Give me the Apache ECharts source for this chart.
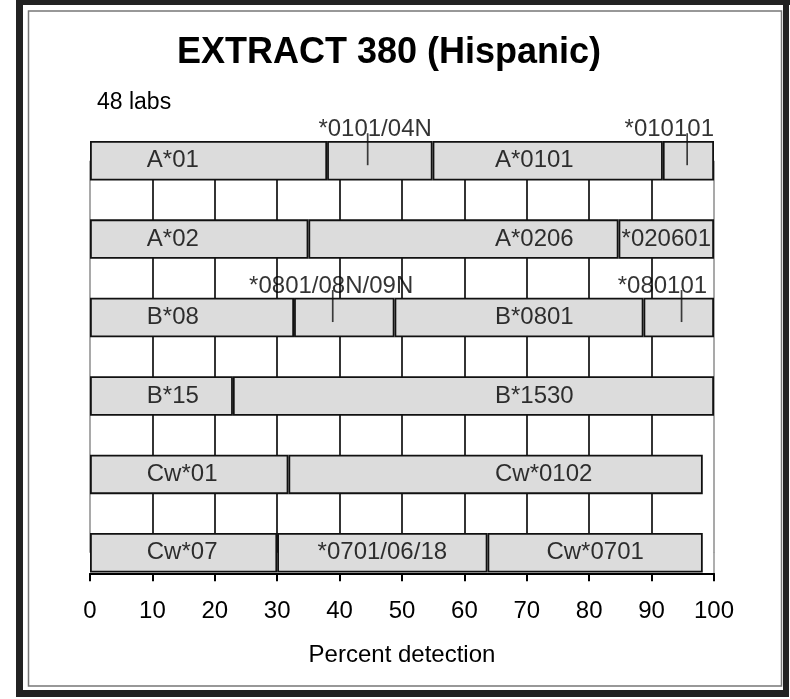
<!DOCTYPE html>
<html><head><meta charset="utf-8">
<script src="https://cdn.jsdelivr.net/npm/echarts@6/dist/echarts.min.js"></script>
<style>html,body{margin:0;padding:0;background:#fff}#c{width:790px;height:699px}</style>
</head><body><div id="c"></div>
<script>
// ---- data ----
const categories = ['A*01', 'A*02', 'B*08', 'B*15', 'Cw*01', 'Cw*07'];
const seg1 = [38.0, 35.0, 32.7, 22.9, 31.8, 30.0];
const seg2 = [16.9, 49.7, 16.1, 77.1, 66.4, 33.7];
const seg3 = [36.9, 15.3, 39.9, null, null, 34.5];
const seg4 = [8.2, null, 11.3, null, null, null];
const text1 = ['A*01', 'A*02', 'B*08', 'B*15', 'Cw*01', 'Cw*07'];
const text2 = ['', 'A*0206', '', 'B*1530', 'Cw*0102', '*0701/06/18'];
const text3 = ['A*0101', '*020601', 'B*0801', '', '', 'Cw*0701'];
const calloutRow = [0, 0, 2, 2];
const calloutText = ['*0101/04N', '*010101', '*0801/08N/09N', '*080101'];
const calloutAt = [44.5, 95.7, 38.9, 94.8];
const xTickLabels = ['0', '10', '20', '30', '40', '50', '60', '70', '80', '90', '100'];

// ---- layout / style (not data) ----
const FONT = 'Liberation Sans, Arial, sans-serif';
const LAYOUT = { firstColX: 9.1, secondColX: 64.9 };
const align1 = ['first', 'first', 'first', 'first', 'first', 'first'];
const align2 = ['', 'col', '', 'col', 'col', 'center'];
const align3 = ['col', 'center', 'col', '', '', 'center'];
const calloutTextX = [36.6, 100, 25.5, 98.9];
const calloutAlign = ['left', 'right', 'left', 'right'];
const LABEL_SIZE = 24;

const segs = [seg1, seg2, seg3, seg4];
const barSeries = segs.map(s => ({
  type: 'bar', stack: 'total', barWidth: 39.5, silent: true,
  data: s.map(v => (v == null ? '-' : v)),
  itemStyle: { color: '#dcdcdc', borderColor: '#111', borderWidth: 1.8 },
  z: 2
}));

const textData = [];
categories.forEach((c, i) => {
  let start = 0;
  [[seg1, text1, align1], [seg2, text2, align2], [seg3, text3, align3]].forEach(([s, t, a]) => {
    const w = s[i] || 0;
    if (t[i]) {
      let x, al;
      if (a[i] === 'first') { x = LAYOUT.firstColX; al = 'left'; }
      else if (a[i] === 'col') { x = LAYOUT.secondColX; al = 'left'; }
      else { x = start + w / 2; al = 'center'; }
      textData.push({ name: t[i], value: [x, i], label: { align: al } });
    }
    start += w;
  });
});

const calloutData = calloutText.map((t, k) => ({
  name: t, value: [calloutTextX[k], calloutRow[k]], label: { align: calloutAlign[k] }
}));
const leaderData = calloutAt.map((x, k) => [x, calloutRow[k]]);

const gridColors = xTickLabels.map((_, k) => (k === 0 || k === xTickLabels.length - 1) ? '#9a9a9a' : '#111');

const chart = echarts.init(document.getElementById('c'), null, { renderer: 'canvas' });
chart.setOption({
  animation: false,
  backgroundColor: '#fff',
  grid: { left: 90, right: 76, top: 160.7, bottom: 146.2, containLabel: false },
  xAxis: {
    type: 'value', min: 0, max: 100, interval: 10, offset: 20.5,
    name: 'Percent detection', nameLocation: 'middle', nameGap: 70,
    nameTextStyle: { fontFamily: FONT, fontSize: 24, color: '#000' },
    axisLine: { show: true, lineStyle: { color: '#000', width: 2 } },
    axisTick: { show: true, length: 8, lineStyle: { color: '#000', width: 2 } },
    axisLabel: { margin: 26, fontFamily: FONT, fontSize: LABEL_SIZE, color: '#000',
      formatter: (v) => xTickLabels[Math.round(v / 10)] },
    splitLine: { show: true, lineStyle: { color: gridColors, width: 1.7 } }
  },
  yAxis: {
    type: 'category', data: categories, inverse: true, boundaryGap: false,
    axisLine: { show: false }, axisTick: { show: false }, axisLabel: { show: false },
    splitLine: { show: false }
  },
  series: barSeries.concat([
    {
      type: 'scatter', symbolSize: 0, silent: true, z: 5, data: textData,
      label: { show: true, position: 'inside', formatter: '{b}', fontFamily: FONT,
        fontSize: LABEL_SIZE, color: '#000', verticalAlign: 'middle' }
    },
    {
      type: 'scatter', symbolSize: 0, silent: true, z: 5, data: calloutData,
      label: { show: true, position: 'inside', formatter: '{b}', fontFamily: FONT,
        fontSize: LABEL_SIZE, color: '#000', verticalAlign: 'middle', offset: [0, -31.5] }
    },
    {
      type: 'scatter', symbol: 'rect', symbolSize: [1.7, 32], symbolOffset: [0, -11.5],
      silent: true, z: 6, data: leaderData, itemStyle: { color: '#111' }
    }
  ]),
  graphic: [
    { type: 'rect', shape: { x: 16, y: 0, width: 774, height: 5 }, style: { fill: '#222' }, silent: true },
    { type: 'rect', shape: { x: 16, y: 0, width: 7, height: 697 }, style: { fill: '#222' }, silent: true },
    { type: 'rect', shape: { x: 783, y: 0, width: 6, height: 697 }, style: { fill: '#222' }, silent: true },
    { type: 'rect', shape: { x: 16, y: 690, width: 773, height: 7 }, style: { fill: '#222' }, silent: true },
    { type: 'rect', shape: { x: 28.5, y: 11, width: 753, height: 675 }, style: { fill: null, stroke: '#777', lineWidth: 1.5 }, silent: true },
    { type: 'line', shape: { x1: 714, y1: 552, x2: 714, y2: 573 }, style: { stroke: '#9a9a9a', lineWidth: 1.6 }, z: 1, silent: true },
    { type: 'text', x: 389, y: 53, style: { text: 'EXTRACT 380 (Hispanic)', fontFamily: FONT, fontWeight: 'bold',
      fontSize: 36, fill: '#000', textAlign: 'center', textVerticalAlign: 'middle' }, silent: true },
    { type: 'text', x: 97, y: 103, style: { text: '48 labs', fontFamily: FONT,
      fontSize: 23, fill: '#000', textAlign: 'left', textVerticalAlign: 'middle' }, silent: true }
  ]
});
</script>
</body></html>
